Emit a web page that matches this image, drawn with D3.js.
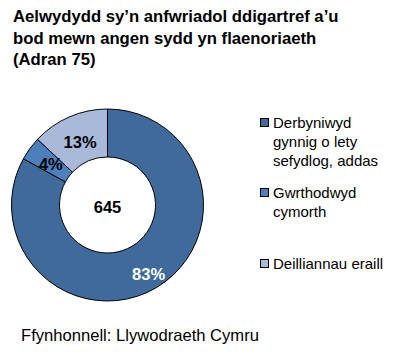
<!DOCTYPE html>
<html lang="cy">
  <head>
    <meta charset="UTF-8" />
    <title>Adran 75</title>
    <script src="https://d3js.org/d3.v7.min.js"></script>
    <style>
      body { margin: 0; background: #fff; }
      text { font-family: "Liberation Sans", Arial, sans-serif; }
    </style>
  </head>
  <body>
    <div id="chart"></div>
    <script>
      const categories = ["Derbyniwyd gynnig o lety sefydlog, addas", "Gwrthodwyd cymorth", "Deilliannau eraill"];
      const legendLines = [["Derbyniwyd", "gynnig o lety", "sefydlog, addas"], ["Gwrthodwyd", "cymorth"], ["Deilliannau eraill"]];
      const values = [83, 4, 13];
      const total = 645;
      const colors = ["#3f6a9b", "#4c7fbc", "#a8b9d9"];
      const titleLines = ["Aelwydydd sy\u2019n anfwriadol ddigartref a\u2019u", "bod mewn angen sydd yn flaenoriaeth", "(Adran 75)"];
      const source = "Ffynhonnell: Llywodraeth Cymru";

      const width = 403;
      const height = 356;
      const cx = 107.5, cy = 205;
      const outerR = 96, innerR = 48;

      const svg = d3.select("#chart").append("svg")
        .attr("width", width)
        .attr("height", height);

      svg.append("g").selectAll("text")
        .data(titleLines)
        .join("text")
        .attr("x", 13)
        .attr("y", (d, i) => 22 + i * 21.5)
        .attr("font-size", 16.7)
        .attr("font-weight", "bold")
        .text(d => d);

      const pie = d3.pie().sort(null).value(d => d);
      const arc = d3.arc().innerRadius(innerR).outerRadius(outerR);
      const arcs = pie(values);

      const g = svg.append("g").attr("transform", `translate(${cx},${cy})`);

      g.selectAll("path")
        .data(arcs)
        .join("path")
        .attr("d", arc)
        .attr("fill", (d, i) => colors[i])
        .attr("stroke", "#000")
        .attr("stroke-width", 1);

      // label positions (fraction of radius) tuned to the picture
      const labelR = [0.84, 0.73, 0.72];
      g.selectAll("text.pct")
        .data(arcs)
        .join("text")
        .attr("class", "pct")
        .attr("transform", (d, i) => {
          const a = (d.startAngle + d.endAngle) / 2;
          const r = outerR * labelR[i];
          return `translate(${Math.sin(a) * r},${-Math.cos(a) * r})`;
        })
        .attr("text-anchor", "middle")
        .attr("dy", "0.36em")
        .attr("font-size", 16.5)
        .attr("font-weight", "bold")
        .attr("fill", (d, i) => i === 0 ? "#fff" : "#000")
        .text(d => d.data + "%");

      g.append("text")
        .attr("text-anchor", "middle")
        .attr("dy", "0.36em")
        .attr("y", 2)
        .attr("font-size", 16.5)
        .attr("font-weight", "bold")
        .text(total);

      const legendY = [123, 193, 264];
      const leg = svg.append("g").selectAll("g")
        .data(categories)
        .join("g")
        .attr("transform", (d, i) => `translate(260,${legendY[i]})`);

      leg.append("rect")
        .attr("x", 0.5).attr("y", -4.5)
        .attr("width", 8).attr("height", 8)
        .attr("fill", (d, i) => colors[i])
        .attr("stroke", "#000");

      leg.each(function(d, i) {
        d3.select(this).selectAll("text")
          .data(legendLines[i])
          .join("text")
          .attr("x", 13)
          .attr("y", (t, j) => 5 + j * 19)
          .attr("font-size", 15)
          .text(t => t);
      });

      svg.append("text")
        .attr("x", 21)
        .attr("y", 341)
        .attr("font-size", 16.6)
        .text(source);
    </script>
  </body>
</html>
